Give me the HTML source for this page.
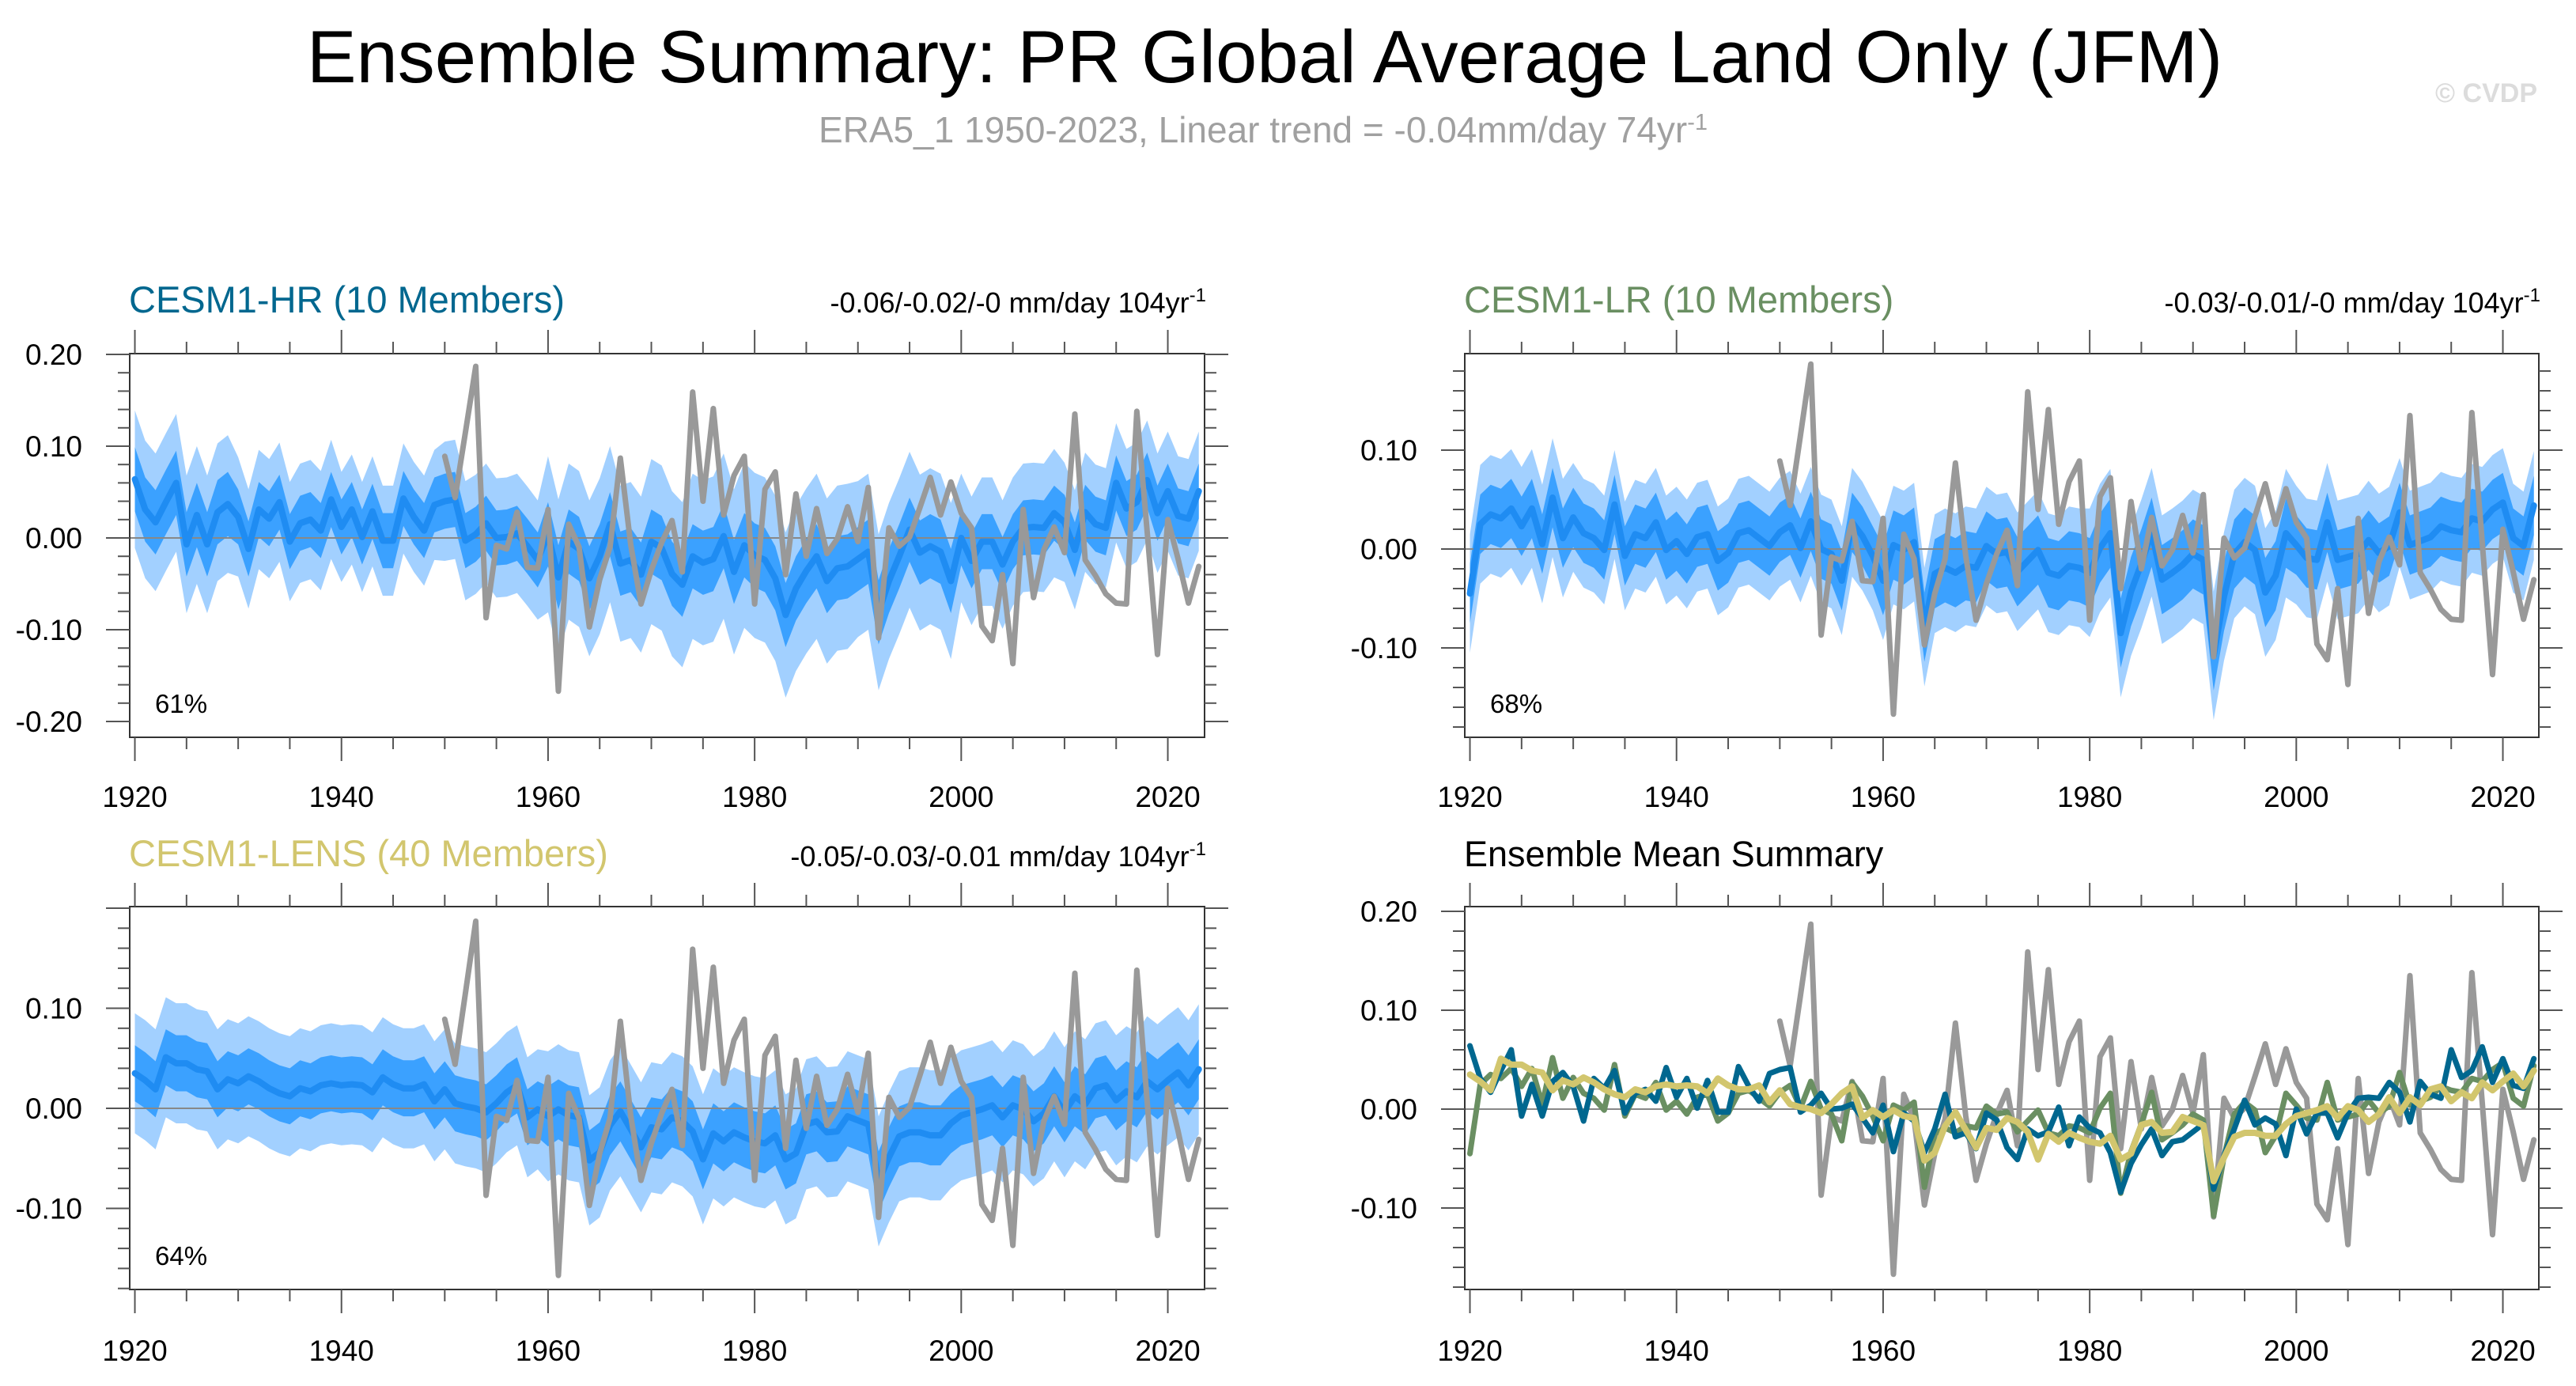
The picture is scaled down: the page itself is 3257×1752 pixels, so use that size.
<!DOCTYPE html>
<html><head><meta charset="utf-8"><style>
html,body{margin:0;padding:0;background:#fff;}
svg{display:block;font-family:"Liberation Sans",Arial,sans-serif;}
</style></head><body>
<svg id="chart" width="3257" height="1752" viewBox="0 0 3257 1752" xmlns="http://www.w3.org/2000/svg">
<text x="1599" y="104" font-size="94" text-anchor="middle" fill="#000">Ensemble Summary: PR Global Average Land Only (JFM)</text>
<text x="1597" y="180" font-size="46" text-anchor="middle" fill="#a0a0a0">ERA5_1 1950-2023, Linear trend = -0.04mm/day 74yr<tspan dy="-16" font-size="29">-1</tspan></text>
<text x="3208" y="129" font-size="34" font-weight="bold" text-anchor="end" fill="#dcdcdc">© CVDP</text>
<g id="plots"></g>
</svg>
<script>
const firstYear = 1920;
const obsFirstYear = 1950;
const xTickYears = [1920, 1940, 1960, 1980, 2000, 2020];
const obs = [0.089,0.044,0.115,0.187,-0.087,-0.008,-0.012,0.028,-0.032,-0.033,
0.031,-0.167,0.015,-0.010,-0.097,-0.045,-0.010,0.087,-0.007,-0.072,
-0.035,-0.005,0.019,-0.037,0.159,0.040,0.141,0.025,0.068,0.089,
-0.072,0.053,0.072,-0.040,0.048,-0.020,0.032,-0.017,-0.001,0.034,
-0.004,0.055,-0.109,0.011,-0.009,0.001,0.033,0.066,0.025,0.061,
0.027,0.011,-0.096,-0.112,-0.040,-0.137,0.031,-0.065,-0.013,0.012,
-0.016,0.135,-0.024,-0.041,-0.061,-0.071,-0.072,0.138,0.007,-0.127,
0.020,-0.023,-0.071,-0.031];
const hrMean = [0.064,0.031,0.017,0.039,0.060,-0.007,0.025,-0.007,0.028,0.037,
0.023,-0.012,0.031,0.021,0.039,-0.004,0.016,0.020,0.008,0.042,
0.012,0.031,0.001,0.029,-0.003,-0.003,0.043,0.023,0.008,0.036,
0.040,0.042,-0.003,0.004,0.016,0.000,0.001,0.005,-0.009,-0.024,
0.004,-0.043,-0.004,-0.012,-0.044,-0.020,0.015,-0.028,-0.024,-0.040,
-0.004,-0.011,-0.039,-0.051,-0.020,-0.027,-0.023,0.002,-0.037,-0.008,
-0.019,-0.024,-0.044,-0.084,-0.055,-0.036,-0.020,-0.047,-0.033,-0.031,
-0.023,-0.015,-0.081,-0.047,-0.020,0.009,-0.016,-0.009,-0.015,-0.047,
0.000,-0.025,-0.004,-0.004,-0.029,-0.004,0.011,0.012,0.011,0.027,
0.017,-0.013,0.028,0.015,0.011,0.060,0.032,0.039,0.063,0.027,
0.051,0.024,0.021,0.051];
const lrMean = [-0.045,0.025,0.035,0.031,0.041,0.023,0.041,0.005,0.052,0.011,
0.032,0.016,0.011,-0.001,0.045,-0.007,0.015,0.011,0.027,-0.001,
0.008,-0.005,0.012,0.015,-0.012,-0.004,0.016,0.019,0.011,0.003,
0.017,0.024,0.001,0.028,0.000,-0.005,-0.032,0.027,0.013,-0.007,
-0.032,0.004,-0.001,0.007,-0.079,-0.025,-0.019,-0.024,-0.017,-0.019,
0.003,-0.005,-0.003,-0.023,-0.012,-0.001,-0.024,-0.027,-0.017,-0.019,
-0.024,0.001,0.016,-0.085,-0.043,-0.015,0.017,-0.031,-0.024,-0.016,
-0.005,-0.011,-0.108,-0.048,-0.005,0.007,-0.001,-0.044,-0.027,0.016,
0.004,-0.009,-0.011,0.027,-0.011,-0.008,-0.005,0.009,-0.004,0.003,
0.037,0.004,0.008,0.012,0.023,0.019,0.017,0.031,0.028,0.040,
0.047,0.011,0.003,0.044];
const lensMean = [0.035,0.028,0.019,0.051,0.045,0.045,0.039,0.037,0.019,0.029,
0.025,0.032,0.027,0.020,0.015,0.012,0.020,0.017,0.023,0.025,
0.023,0.024,0.023,0.016,0.031,0.024,0.020,0.020,0.024,0.007,
0.019,0.005,0.002,0.000,-0.004,0.005,0.016,0.023,-0.009,-0.001,
-0.008,-0.001,-0.007,-0.009,-0.052,-0.044,-0.017,-0.003,-0.021,-0.039,
-0.019,-0.021,-0.009,-0.013,-0.023,-0.051,-0.025,-0.033,-0.024,-0.029,
-0.033,-0.035,-0.027,-0.051,-0.045,-0.016,-0.013,-0.024,-0.023,-0.008,
-0.012,-0.016,-0.073,-0.049,-0.028,-0.024,-0.024,-0.027,-0.027,-0.015,
-0.007,-0.004,-0.001,0.003,-0.009,0.003,-0.001,-0.013,-0.005,0.012,
-0.004,0.012,0.004,0.020,0.023,0.008,0.017,0.011,0.027,0.019,
0.028,0.036,0.023,0.039];
// per-decade half-widths of the member spread (1920s..2020s)
const hrDarkSpread = [0.035,0.03,0.03,0.03,0.035,0.035,0.035,0.035,0.03,0.03,0.03];
const hrLightSpread = [0.075,0.065,0.06,0.065,0.085,0.09,0.09,0.085,0.07,0.065,0.065];
const lrDarkSpread = [0.03,0.03,0.03,0.03,0.035,0.035,0.035,0.035,0.03,0.03,0.03];
const lrLightSpread = [0.06,0.055,0.055,0.055,0.06,0.06,0.065,0.065,0.06,0.055,0.055];
const lensDarkSpread = [0.028,0.028,0.028,0.028,0.03,0.03,0.03,0.03,0.03,0.03,0.03];
const lensLightSpread = [0.06,0.06,0.06,0.06,0.065,0.065,0.065,0.065,0.065,0.065,0.065];

const NS = 'http://www.w3.org/2000/svg';
const root = document.getElementById('plots');
function mk(tag, attrs, parent){const e=document.createElementNS(NS,tag);for(const k in attrs)e.setAttribute(k,attrs[k]);(parent||root).appendChild(e);return e;}

const panels = [
 {key:'hr', x0:164, x1:1523, y0:447, y1:932, zeroY:680, ppu:1160, yTicks:[-0.2,-0.1,0,0.1,0.2], title:'CESM1-HR (10 Members)', tcol:'#00678f', trend:'-0.06/-0.02/-0 mm/day 104yr', pct:'61%', mean:hrMean, dark:hrDarkSpread, light:hrLightSpread, lab:1020, ty:395},
 {key:'lr', x0:1852, x1:3210, y0:447, y1:932, zeroY:694, ppu:1250, yTicks:[-0.1,0,0.1], title:'CESM1-LR (10 Members)', tcol:'#6a8f62', trend:'-0.03/-0.01/-0 mm/day 104yr', pct:'68%', mean:lrMean, dark:lrDarkSpread, light:lrLightSpread, lab:1020, ty:395},
 {key:'lens', x0:164, x1:1523, y0:1146, y1:1630, zeroY:1401, ppu:1265, yTicks:[-0.1,0,0.1], title:'CESM1-LENS (40 Members)', tcol:'#d2c66e', trend:'-0.05/-0.03/-0.01 mm/day 104yr', pct:'64%', mean:lensMean, dark:lensDarkSpread, light:lensLightSpread, lab:1720, ty:1095},
 {key:'summary', x0:1852, x1:3210, y0:1146, y1:1630, zeroY:1402, ppu:1250, yTicks:[-0.1,0,0.1,0.2], title:'Ensemble Mean Summary', tcol:'#000', trend:null, pct:null, lab:1720, ty:1095}
];

panels.forEach(p=>{
  const g = mk('g',{});
  
  
  const xs = yr => p.x0 + (yr - 1919.5) * 13.06;
  const ys = v => p.zeroY - v * p.ppu;
  const vmin = (p.zeroY - p.y1)/p.ppu, vmax = (p.zeroY - p.y0)/p.ppu;
  const clipId = 'clip-'+p.key;
  const cp = mk('clipPath',{id:clipId},g); mk('rect',{x:p.x0,y:p.y0,width:p.x1-p.x0,height:p.y1-p.y0},cp);
  const plot = mk('g',{'clip-path':'url(#'+clipId+')'},g);
  function band(arr, spread, color, name){
    const up=[], lo=[];
    arr.forEach((v,i)=>{const s=spread[Math.floor(i/10)]; const x=xs(firstYear+i); up.push(x+','+ys(v+s)); lo.unshift(x+','+ys(v-s));});
    const el = mk('polygon',{points:up.concat(lo).join(' '),fill:color},plot);
    
    
  }
  function line(arr, start, color, w, name){
    const pts = arr.map((v,i)=>xs(start+i)+','+ys(v)).join(' ');
    const el = mk('polyline',{points:pts,fill:'none',stroke:color,'stroke-width':w,'stroke-linejoin':'round','stroke-linecap':'round'},plot);
    
    
  }
  if(p.mean){
    band(p.mean, p.light, '#a2d0ff', 'spread-band-outer');
    band(p.mean, p.dark, '#3ba1ff', 'spread-band-inner');
  }
  const zl = mk('line',{x1:p.x0,x2:p.x1,y1:ys(0),y2:ys(0),stroke:'#888','stroke-width':2},plot);
  
  
  if(p.mean){
    line(p.mean, firstYear, '#1f8cf2', 8, 'ensemble-mean-line');
    line(obs, obsFirstYear, '#999999', 7, 'observed-era5-line');
  } else {
    line(obs, obsFirstYear, '#999999', 7, 'observed-era5-line');
    line(lrMean, firstYear, '#6a8f62', 7, 'lr-mean-line');
    line(hrMean, firstYear, '#00678f', 7, 'hr-mean-line');
    line(lensMean, firstYear, '#d2c66e', 8, 'lens-mean-line');
  }
  const box = mk('rect',{x:p.x0,y:p.y0,width:p.x1-p.x0,height:p.y1-p.y0,fill:'none',stroke:'#333','stroke-width':2},g);
  
  
  for(let yr=1920; yr<=2020; yr+=5){
    const x=xs(yr), L=(yr%20===0)?30:15;
    mk('line',{x1:x,x2:x,y1:p.y0,y2:p.y0-L,stroke:'#555','stroke-width':2},g);
    mk('line',{x1:x,x2:x,y1:p.y1,y2:p.y1+L,stroke:'#555','stroke-width':2},g);
  }
  xTickYears.forEach(yr=>{
    const t = mk('text',{x:xs(yr),y:p.lab,'font-size':37,'text-anchor':'middle',fill:'#000'},g);
    t.textContent = yr;
    
    
  });
  for(let k=-30;k<=30;k++){
    const v=k*0.02; if(v<vmin-1e-9||v>vmax+1e-9) continue;
    const y=ys(v), L=(k%5===0)?30:15;
    mk('line',{x1:p.x0,x2:p.x0-L,y1:y,y2:y,stroke:'#555','stroke-width':2},g);
    mk('line',{x1:p.x1,x2:p.x1+L,y1:y,y2:y,stroke:'#555','stroke-width':2},g);
  }
  p.yTicks.forEach(v=>{
    const t = mk('text',{x:p.x0-60,y:ys(v)+13,'font-size':37,'text-anchor':'end',fill:'#000'},g);
    t.textContent = v.toFixed(2);
    
    
  });
  const tt = mk('text',{x:p.x0-1,y:p.ty,'font-size':p.trend?47:45,fill:p.tcol},g);
  tt.textContent = p.title;
  
  
  if(p.trend){
    const tr = mk('text',{x:p.x1+2,y:p.ty,'font-size':36,'text-anchor':'end',fill:'#000'},g);
    tr.textContent = p.trend;
    const sup = mk('tspan',{dy:-14,'font-size':24},tr); sup.textContent='-1';
    
    
    const pc = mk('text',{x:p.x0+32,y:p.y1-31,'font-size':33,fill:'#000'},g);
    pc.textContent = p.pct;
    
    
  }
});
</script>
</body></html>
